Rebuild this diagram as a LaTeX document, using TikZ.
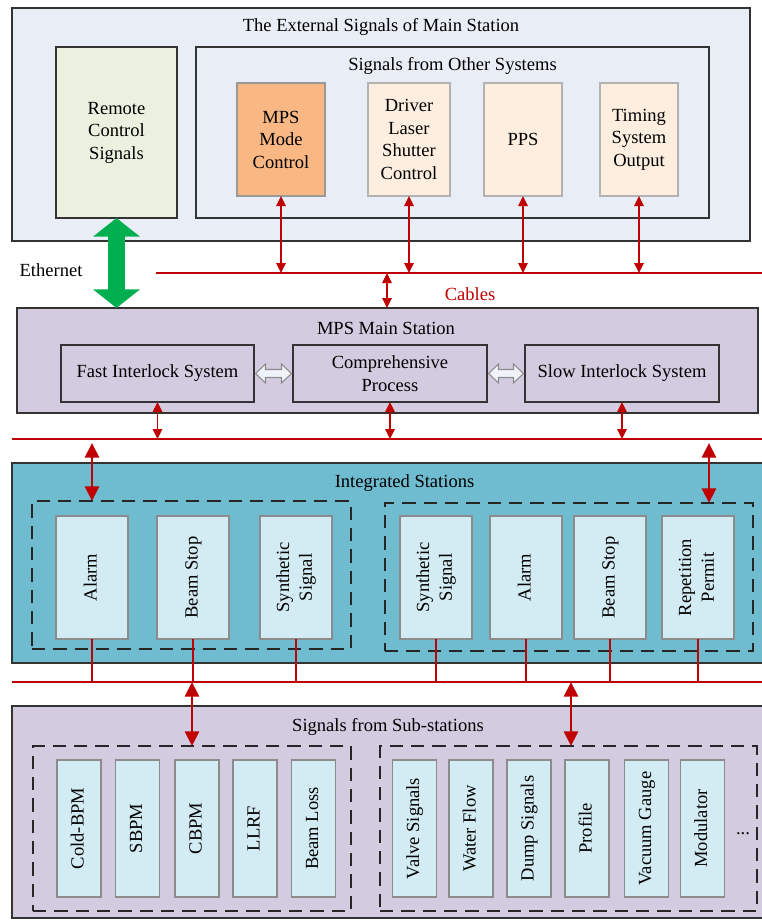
\documentclass[tikz,border=0pt]{standalone}
\usepackage{fontspec}
\usepackage{graphicx}
\setmainfont{Liberation Serif}
\usetikzlibrary{arrows.meta,calc}
\definecolor{extbg}{HTML}{E9EDF6}
\definecolor{remgreen}{HTML}{EBF1DE}
\definecolor{mpsorange}{HTML}{F9B784}
\definecolor{peach}{HTML}{FDEEDF}
\definecolor{lavender}{HTML}{D3CBE0}
\definecolor{teal}{HTML}{6FBCD1}
\definecolor{lightblue}{HTML}{D3EBF2}
\definecolor{myred}{HTML}{C00000}
\definecolor{mygreen}{HTML}{00B050}
\definecolor{hollowfill}{HTML}{F0F3FA}
\newcommand\rlab[1]{\rotatebox{90}{\begin{tabular}{@{}c@{}}#1\end{tabular}}}
\begin{document}
\begin{tikzpicture}[x=0.75pt,y=-0.75pt,
  font=\fontsize{13.9pt}{16.9pt}\selectfont,
  sz/.style 2 args={minimum width=#1*0.75pt, minimum height=#2*0.75pt},
  bigbox/.style={draw=black!80, line width=1.1pt, inner sep=0pt, outer sep=0pt},
  smallbox/.style={draw=black!45, line width=0.8pt, inner sep=0pt, outer sep=0pt, align=center},
  subbox/.style={draw=black!80, line width=1.1pt, inner sep=0pt, outer sep=0pt, align=center},
  dashbox/.style={draw=black!85, line width=1.1pt, dash pattern=on 10pt off 6pt, inner sep=0pt, outer sep=0pt},
  rbox/.style={draw=black!45, fill=lightblue, line width=0.8pt, inner sep=0pt, outer sep=0pt},
  lbl/.style={inner sep=0pt, outer sep=0pt},
  redline/.style={draw=myred, line width=1.3pt},
  thinarrow/.style={draw=myred, line width=1.2pt, {Triangle[length=7.5pt,width=7pt]}-{Triangle[length=7.5pt,width=7pt]}},
  thickarrow/.style={draw=myred, line width=2.2pt, {Triangle[length=11pt,width=10.5pt]}-{Triangle[length=11pt,width=10.5pt]}},
  greenarrow/.style={draw=mygreen, line width=12.5pt, {Triangle[length=14pt,width=34.5pt]}-{Triangle[length=14pt,width=34.5pt]}},
  hollow/.style={draw=black!45, fill=hollowfill, line width=0.8pt, line join=miter}
]
\useasboundingbox (0,0) rectangle (762,921);

% ---------- top block ----------
\node[bigbox, fill=extbg, sz={738}{233}] (ext) at (381,124.5) {};
\node[lbl] (extT) at (381,27) {The External Signals of Main Station};
\node[subbox, fill=remgreen, sz={121}{171}] (remote) at (116.5,132.5) {Remote\\Control\\Signals};
\node[subbox, fill=extbg, sz={513}{171}] (other) at (452.5,132.5) {};
\node[lbl] (otherT) at (452.5,66) {Signals from Other Systems};
\node[smallbox, draw=black!40, fill=mpsorange, sz={88}{113}] (mps) at (281,139.5) {MPS\\Mode\\Control};
\node[smallbox, draw=black!30, fill=peach, sz={82}{113}] (drv) at (409,139.5) {Driver\\Laser\\Shutter\\Control};
\node[smallbox, draw=black!30, fill=peach, sz={78}{113}] (pps) at (523,139.5) {PPS};
\node[smallbox, draw=black!30, fill=peach, sz={78}{113}] (tim) at (639,139.5) {Timing\\System\\Output};

% cables line
\coordinate (cabL) at (156,273);
\coordinate (cabR) at (770,273);
\draw[redline] (cabL) -- (cabR);
\foreach \n in {mps,drv,pps,tim}{
  \draw[thinarrow] (\n.south) -- (\n.south |- cabL);
}
\node[lbl, text=myred] (cables) at (470,294) {Cables};
\node[lbl] (eth) at (51,270) {Ethernet};

% ---------- main station ----------
\node[bigbox, fill=lavender, sz={741}{105}] (main) at (387.5,360.5) {};
\node[lbl] (mainT) at (386,328) {MPS Main Station};
\node[subbox, fill=lavender, sz={193}{57}] (fast) at (157.5,373.5) {Fast Interlock System};
\node[subbox, fill=lavender, sz={194}{57}] (comp) at (390,373.5) {Comprehensive\\Process};
\node[subbox, fill=lavender, sz={194}{57}] (slow) at (622,373.5) {Slow Interlock System};

\coordinate (cabA) at (387,273);
\draw[thinarrow] (cabA) -- (cabA |- main.north);
\draw[greenarrow] (remote.south) -- (remote.south |- main.north);

% hollow arrows
\newcommand\hollowarrow[2]{%
  \draw[hollow] (#1) -- ++(10,-9.5) -- ++(0,5.5) -- ($(#2)+(-10,-4)$) -- ++(0,-5.5)
     -- (#2) -- ++(-10,9.5) -- ++(0,-5.5) -- ($(#1)+(10,4)$) -- ++(0,5.5) -- cycle;}
\coordinate (h1a) at ($(fast.east)+(1.5,0)$);
\coordinate (h1b) at ($(comp.west)+(-1.5,0)$);
\coordinate (h2a) at ($(comp.east)+(1.5,0)$);
\coordinate (h2b) at ($(slow.west)+(-1.5,0)$);
\hollowarrow{h1a}{h1b}
\hollowarrow{h2a}{h2b}

% line 2
\coordinate (l2L) at (12,439);
\coordinate (l2R) at (770,439);
\draw[redline] (l2L) -- (l2R);
\foreach \n in {fast,comp,slow}{
  \draw[thinarrow] (\n.south) -- (\n.south |- l2L);
}

% ---------- integrated stations ----------
\node[bigbox, fill=teal, sz={770}{200}] (integ) at (397,563) {};
\node[lbl] (integT) at (404.5,483) {Integrated Stations};
\node[dashbox, sz={319}{148}] (intL) at (191.5,575) {};
\node[dashbox, sz={368}{148}] (intR) at (569,577) {};
\coordinate (ta1) at (92,443);
\coordinate (ta2) at (709,443);
\draw[thickarrow] (ta1) -- (ta1 |- intL.north);
\draw[thickarrow] (ta2) -- (ta2 |- intR.north);

\node[rbox, sz={72}{123}] (al1) at (92,577.5) {\rlab{Alarm}};
\node[rbox, sz={72}{123}] (bs1) at (193,577.5) {\rlab{Beam Stop}};
\node[rbox, sz={72}{123}] (sy1) at (296,577.5) {\rlab{Synthetic\\Signal}};
\node[rbox, sz={72}{123}] (sy2) at (436,577.5) {\rlab{Synthetic\\Signal}};
\node[rbox, sz={72}{123}] (al2) at (526,577.5) {\rlab{Alarm}};
\node[rbox, sz={72}{123}] (bs2) at (610,577.5) {\rlab{Beam Stop}};
\node[rbox, sz={72}{123}] (rep) at (698,577.5) {\rlab{Repetition\\Permit}};

\coordinate (l3L) at (12,682);
\coordinate (l3R) at (770,682);
\draw[redline] (l3L) -- (l3R);
\foreach \n in {al1,bs1,sy1,sy2,al2,bs2,rep}{
  \draw[redline] (\n.south) -- (\n.south |- l3L);
}

% ---------- sub-stations ----------
\node[bigbox, fill=lavender, sz={770}{212}] (sub) at (397,812) {};
\node[lbl] (subT) at (388,727) {Signals from Sub-stations};
\node[dashbox, sz={318}{165}] (subL) at (192,828.5) {};
\node[dashbox, sz={377}{165}] (subR) at (568.5,828.5) {};
\coordinate (tb1) at (192,682);
\coordinate (tb2) at (571,682);
\draw[thickarrow] (tb1) -- (tb1 |- subL.north);
\draw[thickarrow] (tb2) -- (tb2 |- subR.north);

\node[rbox, sz={44}{137}] (cold) at (79,828.5) {\rlab{Cold-BPM}};
\node[rbox, sz={44}{137}] (sbpm) at (137.5,828.5) {\rlab{SBPM}};
\node[rbox, sz={44}{137}] (cbpm) at (197,828.5) {\rlab{CBPM}};
\node[rbox, sz={44}{137}] (llrf) at (255,828.5) {\rlab{LLRF}};
\node[rbox, sz={44}{137}] (bloss) at (313.5,828.5) {\rlab{Beam Loss}};
\node[rbox, sz={44}{137}] (valve) at (414.5,828.5) {\rlab{Valve Signals}};
\node[rbox, sz={44}{137}] (water) at (471,828.5) {\rlab{Water Flow}};
\node[rbox, sz={44}{137}] (dump) at (529,828.5) {\rlab{Dump Signals}};
\node[rbox, sz={44}{137}] (prof) at (587,828.5) {\rlab{Profile}};
\node[rbox, sz={44}{137}] (vac) at (646.5,828.5) {\rlab{Vacuum Gauge}};
\node[rbox, sz={44}{137}] (mod) at (702.5,828.5) {\rlab{Modulator}};
\node[lbl] (dots) at (743,834) {...};
\end{tikzpicture}
\end{document}
